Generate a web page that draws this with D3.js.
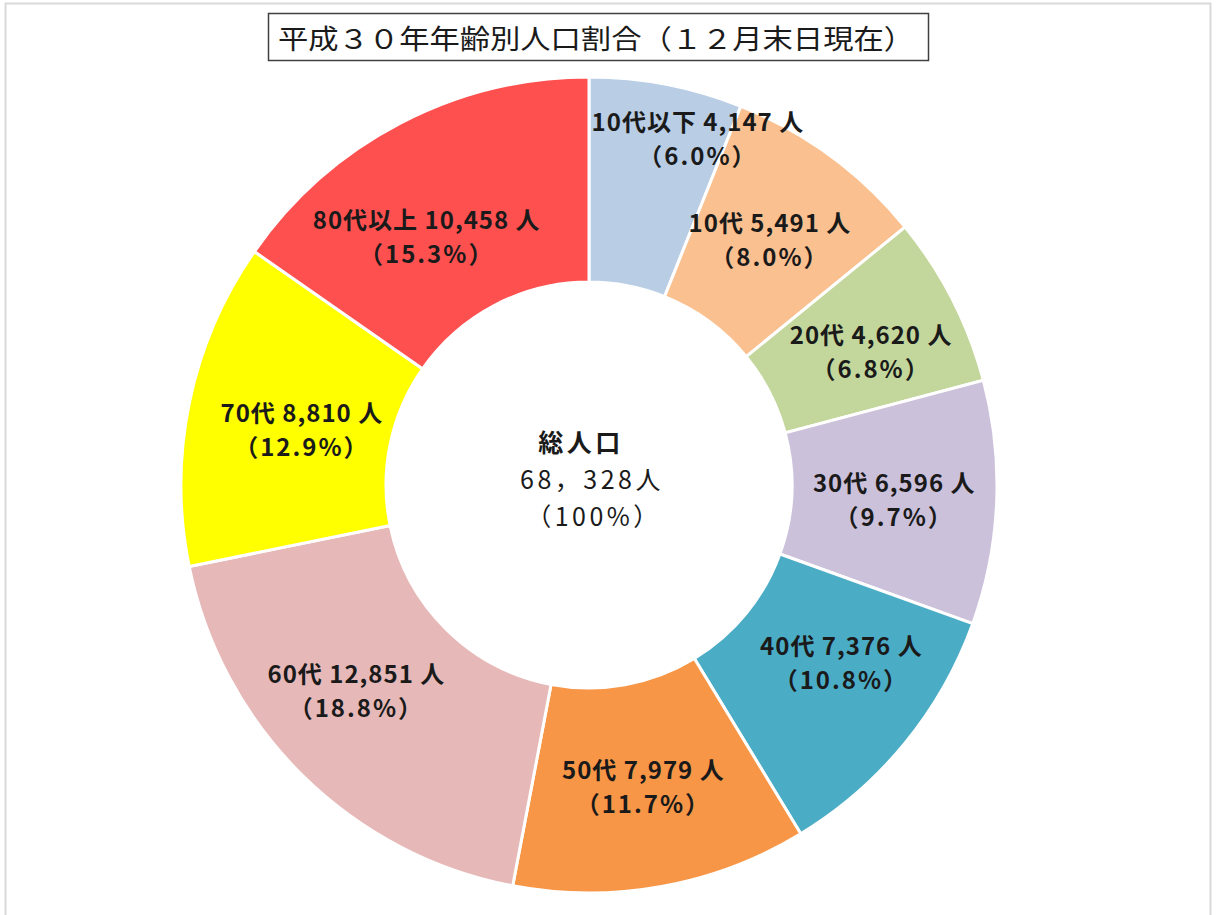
<!DOCTYPE html>
<html>
<head>
<meta charset="utf-8">
<script src="https://d3js.org/d3.v7.min.js"></script>
<style>
  body { margin: 0; background: #fff; }
  text { font-family: "Noto Sans CJK JP", "Noto Sans", sans-serif; fill: #1a1a1a; }
</style>
</head>
<body>
<div id="chart"></div>
<script>

// age groups, population and share, clockwise from 12 o'clock
var categories = ["10代以下", "10代", "20代", "30代", "40代", "50代", "60代", "70代", "80代以上"];
var population = [4147, 5491, 4620, 6596, 7376, 7979, 12851, 8810, 10458];
var shares = ["6.0", "8.0", "6.8", "9.7", "10.8", "11.7", "18.8", "12.9", "15.3"];
var colors = ["#b9cde5", "#fac090", "#c3d69b", "#ccc1da", "#4bacc6", "#f79646", "#e6b9b8", "#ffff00", "#ff5050"];

var titleText = "平成３０年年齢別人口割合（１２月末日現在）";
var centerLines = ["総人口", "68，328人", "（100%）"];

var width = 1216,
    height = 915,
    cx = 589,
    cy = 485,
    outerR = 408,
    innerR = 203;

// hand placed labels in the original, offsets from the arc centroid
var labelNudge = {
  "10代以下": [51, -48],
  "20代": [10, 4],
  "40代": [16, -17],
  "60代": [-18, -13],
  "70代": [12, 5],
  "80代以上": [-21, 21]
};

var svg = d3.select("#chart").append("svg")
  .attr("width", width)
  .attr("height", height);

// faint outer frame
svg.append("rect")
  .attr("x", 5.5).attr("y", 3.5)
  .attr("width", 1205).attr("height", 920)
  .attr("fill", "none")
  .attr("stroke", "#d9d9d9")
  .attr("stroke-width", 2);

// title box
svg.append("rect")
  .attr("x", 268.5).attr("y", 13.5)
  .attr("width", 660).attr("height", 47)
  .attr("fill", "#fff")
  .attr("stroke", "#404040")
  .attr("stroke-width", 1.5);

svg.append("text")
  .attr("x", 278).attr("y", 37)
  .attr("dominant-baseline", "central")
  .attr("textLength", 636)
  .attr("lengthAdjust", "spacingAndGlyphs")
  .style("font-size", "27px")
  .text(titleText);

var data = categories.map(function(c, i) {
  return { name: c, value: population[i], share: shares[i], color: colors[i] };
});

var pie = d3.pie()
  .sort(null)
  .value(function(d) { return d.value; });

var arc = d3.arc()
  .innerRadius(innerR)
  .outerRadius(outerR);

var g = svg.append("g")
  .attr("transform", "translate(" + cx + "," + cy + ")");

var arcs = pie(data);

g.selectAll("path")
  .data(arcs)
  .enter()
  .append("path")
  .attr("d", arc)
  .attr("fill", function(d) { return d.data.color; })
  .attr("stroke", "#fff")
  .attr("stroke-width", 3);

var labels = g.selectAll("g.label")
  .data(arcs)
  .enter()
  .append("g")
  .attr("class", "label")
  .attr("transform", function(d) {
    var c = arc.centroid(d),
        n = labelNudge[d.data.name] || [0, 0];
    return "translate(" + (c[0] + n[0]) + "," + (c[1] + n[1]) + ")";
  });

labels.append("text")
  .attr("text-anchor", "middle")
  .attr("dominant-baseline", "central")
  .attr("y", -17)
  .style("font-size", "24px")
  .style("letter-spacing", "1px")
  .style("font-weight", "bold")
  .text(function(d) { return d.data.name + " " + d3.format(",")(d.data.value) + " 人"; });

labels.append("text")
  .attr("text-anchor", "middle")
  .attr("dominant-baseline", "central")
  .attr("y", 17)
  .style("font-size", "24px")
  .style("letter-spacing", "2px")
  .style("font-weight", "bold")
  .text(function(d) { return "（" + d.data.share + "%）"; });

// centre text
var centerX = [-8, 3, 5],
    centerY = [-44, -7, 30];

g.selectAll("text.center")
  .data(centerLines)
  .enter()
  .append("text")
  .attr("class", "center")
  .attr("text-anchor", "middle")
  .attr("dominant-baseline", "central")
  .attr("x", function(d, i) { return centerX[i]; })
  .attr("y", function(d, i) { return centerY[i]; })
  .style("font-size", "25px")
  .style("letter-spacing", "3.5px")
  .style("font-weight", function(d, i) { return i === 0 ? "bold" : "normal"; })
  .text(function(d) { return d; });

</script>
</body>
</html>
